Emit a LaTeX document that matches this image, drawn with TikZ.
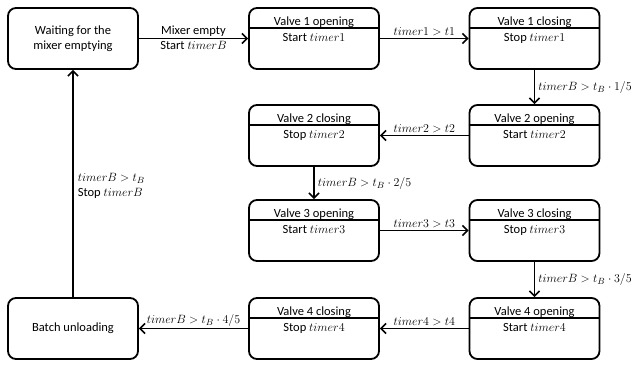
\documentclass[tikz,border=0pt]{standalone}
\usepackage{fontspec}
\setmainfont{Carlito}
\usetikzlibrary{arrows.meta}
\begin{document}
\begin{tikzpicture}[x=1pt,y=-1pt,
  box/.style={draw,line width=1.8pt,rounded corners=8pt,minimum width=130pt,minimum height=61pt,inner sep=0pt,align=center,font=\fontsize{12.5}{15}\selectfont},
  conn/.style={line width=1.6pt,-{Straight Barb[length=5pt,width=10pt,line width=1.6pt]}},
  lbl/.style={font=\fontsize{12.5}{15}\selectfont,inner sep=1.5pt},
  head/.style={font=\fontsize{12.5}{15}\selectfont,inner sep=0pt,anchor=base}]
\useasboundingbox (0,0) rectangle (642,364);

% plain states
\node[box] (wait) at (73,38.5) {Waiting for the\\mixer emptying};
\node[box] (unload) at (73,328.5) {Batch unloading};

% states with a header line: name, centre, title, action
\newcommand{\statebox}[4]{%
  \node[box] (#1) at (#2) {};
  \draw[line width=1.8pt] ([yshift=-21pt]#1.north west) -- ([yshift=-21pt]#1.north east);
  \node[head] at ([yshift=-18pt]#1.north) {#3};
  \node[head] at ([yshift=-34pt]#1.north) {#4};
}
\statebox{vaop}{314,38.5}{Valve 1 opening}{Start $timer1$}
\statebox{vacl}{534.5,38.5}{Valve 1 closing}{Stop $timer1$}
\statebox{vbop}{534.5,135.5}{Valve 2 opening}{Start $timer2$}
\statebox{vbcl}{314,135.5}{Valve 2 closing}{Stop $timer2$}
\statebox{vcop}{314,230.5}{Valve 3 opening}{Start $timer3$}
\statebox{vccl}{534.5,230.5}{Valve 3 closing}{Stop $timer3$}
\statebox{vdop}{534.5,328.5}{Valve 4 opening}{Start $timer4$}
\statebox{vdcl}{314,328.5}{Valve 4 closing}{Stop $timer4$}

% transitions
\draw[conn] (wait) -- node[lbl,above] {Mixer empty} node[lbl,below] {Start $timerB$} (vaop);
\draw[conn] (vaop) -- node[lbl,above] {$timer1>t1$} (vacl);
\draw[conn] (vacl) -- node[lbl,right,inner sep=3pt] {$timerB>t_B\cdot 1/5$} (vbop);
\draw[conn] (vbop) -- node[lbl,above] {$timer2>t2$} (vbcl);
\draw[conn] (vbcl) -- node[lbl,right,inner sep=3pt] {$timerB>t_B\cdot 2/5$} (vcop);
\draw[conn] (vcop) -- node[lbl,above] {$timer3>t3$} (vccl);
\draw[conn] (vccl) -- node[lbl,right,inner sep=3pt] {$timerB>t_B\cdot 3/5$} (vdop);
\draw[conn] (vdop) -- node[lbl,above] {$timer4>t4$} (vdcl);
\draw[conn] (vdcl) -- node[lbl,above] {$timerB>t_B\cdot 4/5$} (unload);
\draw[conn] (unload) -- node[lbl,right,align=left,pos=0.49,inner sep=4pt] {$timerB>t_B$\\Stop $timerB$} (wait);
\end{tikzpicture}
\end{document}
